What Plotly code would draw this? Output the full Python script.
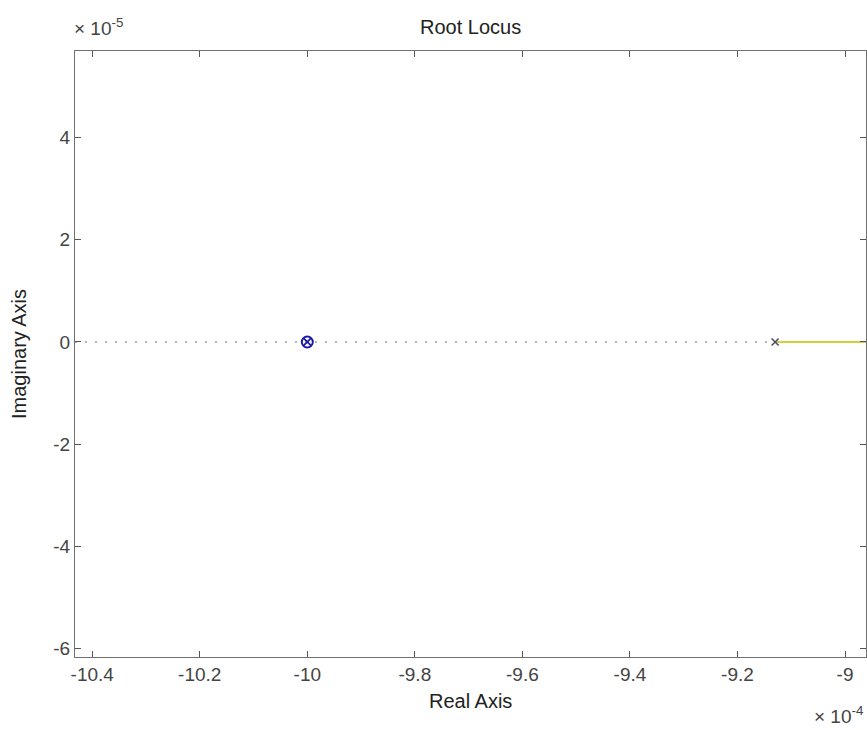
import plotly.graph_objects as go

# Values in display units (real axis x 1e-4, imaginary axis x 1e-5)
x_exp = -4
y_exp = -5
zero_re = [-10.0]
zero_im = [0.0]
pole_re = [-10.0, -9.13]
pole_im = [0.0, 0.0]
locus_re = [-9.13, -8.96]
locus_im = [0.0, 0.0]
asym_re = [-10.432, -9.13]
asym_im = [0.0, 0.0]
x_ticks = [-10.4, -10.2, -10.0, -9.8, -9.6, -9.4, -9.2, -9.0]
x_tick_labels = ["-10.4", "-10.2", "-10", "-9.8", "-9.6", "-9.4", "-9.2", "-9"]
y_ticks = [-6, -4, -2, 0, 2, 4]
y_tick_labels = ["-6", "-4", "-2", "0", "2", "4"]
x_range = [-10.432, -8.961]
y_range = [-6.16, 5.69]

font = "Liberation Sans, Arial, sans-serif"
FS = 19
fig = go.Figure()
fig.add_trace(go.Scatter(x=asym_re, y=asym_im, mode="lines",
                         line=dict(color="#6a6a7a", width=1.2, dash="2px,8px"),
                         hoverinfo="skip", showlegend=False))
fig.add_trace(go.Scatter(x=locus_re, y=locus_im, mode="lines",
                         line=dict(color="#bfbf00", width=1.6), showlegend=False))
fig.add_trace(go.Scatter(x=zero_re, y=zero_im, mode="markers",
                         marker=dict(symbol="circle-open", size=11, color="#1a1aa8",
                                     line=dict(color="#1a1aa8", width=2)),
                         showlegend=False))
fig.add_trace(go.Scatter(x=pole_re[:1], y=pole_im[:1], mode="markers",
                         marker=dict(symbol="x-thin-open", size=7, color="#1a1aa8",
                                     line=dict(color="#1a1aa8", width=1.8)),
                         showlegend=False))
fig.add_trace(go.Scatter(x=pole_re[1:], y=pole_im[1:], mode="markers",
                         marker=dict(symbol="x-thin-open", size=7, color="#4a4a66",
                                     line=dict(color="#4a4a66", width=1.5)),
                         showlegend=False))

axis_common = dict(showgrid=False, zeroline=False, showline=True, mirror="ticks",
                   linecolor="#707070", linewidth=1.3, ticks="inside", ticklen=6,
                   tickcolor="#555555", tickwidth=1,
                   tickfont=dict(family=font, size=FS, color="#444444"))
fig.update_xaxes(range=x_range, tickvals=x_ticks, ticktext=x_tick_labels, **axis_common)
fig.update_yaxes(range=y_range, tickvals=y_ticks, ticktext=y_tick_labels, **axis_common)

fig.update_layout(
    width=867, height=730,
    margin=dict(l=75, r=1, t=51, b=73),
    paper_bgcolor="white", plot_bgcolor="white",
)
lab = dict(family=font, size=FS + 1, color="#222222")
# title
fig.add_annotation(xref="paper", yref="paper", x=0.5, y=1.0, yshift=24,
                   xanchor="center", yanchor="middle", showarrow=False,
                   text="Root Locus", font=lab)
# x axis title
fig.add_annotation(xref="paper", yref="paper", x=0.5, y=0.0, yshift=-44,
                   xanchor="center", yanchor="middle", showarrow=False,
                   text="Real Axis", font=lab)
# y axis title
fig.add_annotation(xref="paper", yref="paper", x=0.0, y=0.5, xshift=-56,
                   xanchor="center", yanchor="middle", showarrow=False, textangle=-90,
                   text="Imaginary Axis", font=lab)
# exponent labels
fig.add_annotation(xref="paper", yref="paper", x=0.0, y=1.0, xshift=-3, yshift=10,
                   xanchor="left", yanchor="bottom", showarrow=False,
                   text="× 10<sup>%d</sup>" % y_exp,
                   font=dict(family=font, size=FS, color="#444444"))
fig.add_annotation(xref="paper", yref="paper", x=0.0, y=0.0, xshift=737, yshift=-72,
                   xanchor="left", yanchor="bottom", showarrow=False,
                   text="× 10<sup>%d</sup>" % x_exp,
                   font=dict(family=font, size=FS, color="#444444"))

fig.write_html("out.html")
